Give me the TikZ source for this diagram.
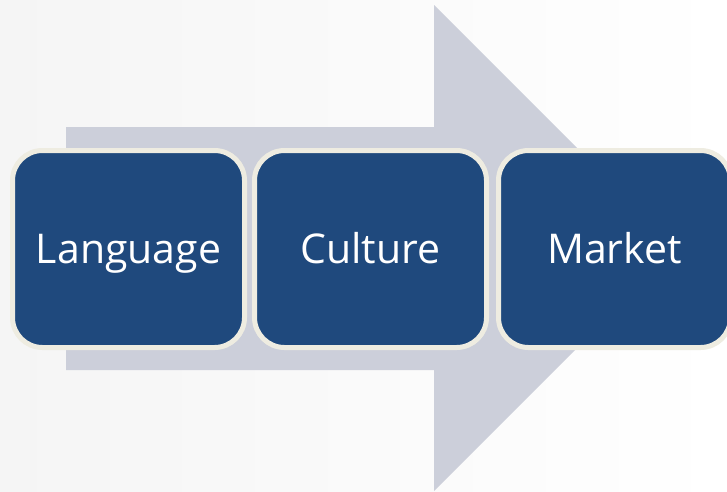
\documentclass[tikz,border=0pt]{standalone}
\usepackage{fontspec}
\setmainfont{Open Sans}
\definecolor{arrowgray}{HTML}{CCCFDA}
\definecolor{boxblue}{HTML}{1F497D}
\definecolor{boxrim}{HTML}{EEECE1}
\definecolor{bgleft}{HTML}{F5F5F5}
\begin{document}
\begin{tikzpicture}[x=1pt,y=-1pt,
  stepbox/.style={draw=boxrim, line width=5pt, fill=boxblue, rounded corners=30pt,
    minimum width=232pt, minimum height=197pt, text=white, font=\fontsize{41}{48}\selectfont,
    inner sep=0pt, text height=30pt, text depth=2pt}]
\useasboundingbox (0,0) rectangle (727,491);
\shade[left color=bgleft, right color=white] (0,0) rectangle (727,491);
\fill[arrowgray] (66,127) -- (434,127) -- (434,5) -- (677,248) -- (434,491) -- (434,370) -- (66,370) -- cycle;
\node[stepbox] (lang) at (128.5,249) {Language};
\node[stepbox] (cult) at (370.5,249) {Culture};
\node[stepbox] (mkt) at (614.5,249) {Market};
\end{tikzpicture}
\end{document}
